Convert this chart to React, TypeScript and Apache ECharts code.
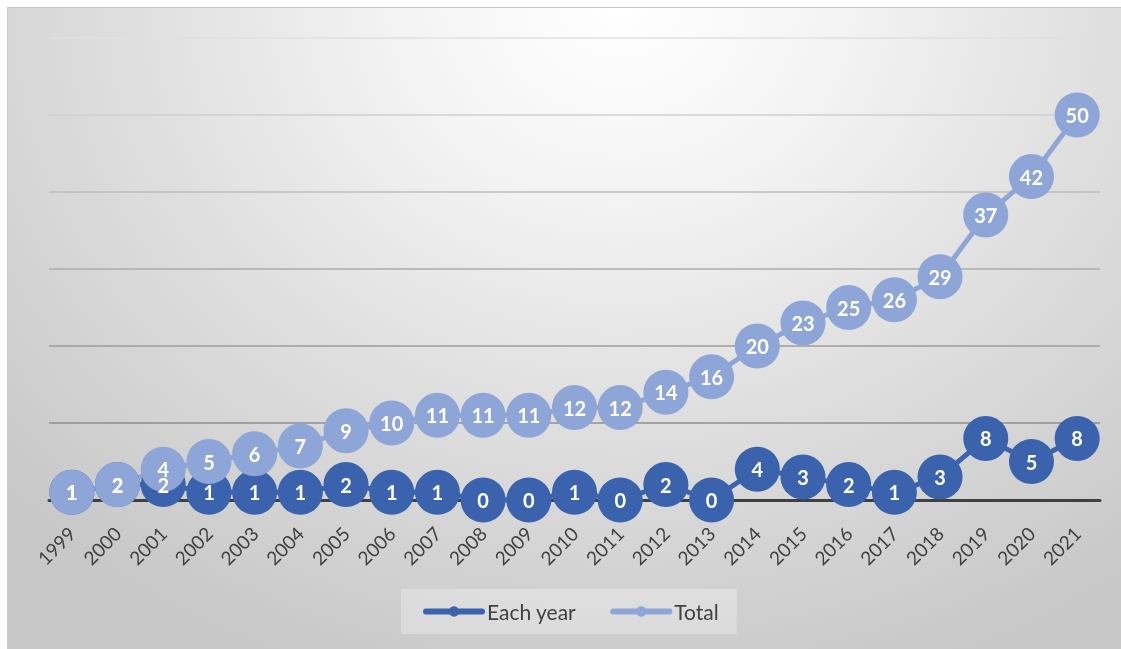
import React, { useEffect, useRef } from "react";
import * as echarts from "echarts";

const years = ["1999","2000","2001","2002","2003","2004","2005","2006","2007","2008","2009","2010","2011","2012","2013","2014","2015","2016","2017","2018","2019","2020","2021"];
const eachYear = [1,2,2,1,1,1,2,1,1,0,0,1,0,2,0,4,3,2,1,3,8,5,8];
const total = [1,2,4,5,6,7,9,10,11,11,11,12,12,14,16,20,23,25,26,29,37,42,50];
const seriesNames = ["Each year", "Total"];
const gridColors = ["#808080","#8e8e8e","#9c9c9c","#ababab","#bdbdbd","#cfcfcf","#e0e0e0"];

const FONT = 'Lato, "Open Sans", "Liberation Sans", sans-serif';

export default function App() {
  const ref = useRef<HTMLDivElement>(null);
  useEffect(() => {
    const chart = echarts.init(ref.current!, null, { renderer: "svg" });
    const label = {
      show: true,
      position: "inside",
      color: "#ffffff",
      fontWeight: "bold",
      fontSize: 20,
      fontFamily: FONT,
    };
    chart.setOption({
      animation: false,
      grid: { left: 41, right: 21, top: 30, bottom: 149 },
      legend: {
        left: 393,
        top: 581,
        data: seriesNames,
        backgroundColor: "rgba(255,255,255,0.28)",
        padding: [12, 18, 12, 22],
        itemWidth: 56,
        itemHeight: 13,
        itemGap: 34,
        lineStyle: { width: 6, cap: "round" },
        textStyle: { color: "#404040", fontSize: 21, fontFamily: FONT },
      },
      xAxis: {
        type: "category",
        data: years,
        axisLine: { lineStyle: { color: "#404040", width: 3 } },
        axisTick: { show: false },
        axisLabel: {
          rotate: 45,
          color: "#404040",
          fontSize: 19,
          fontFamily: FONT,
          margin: 30,
          interval: 0,
        },
      },
      yAxis: {
        type: "value",
        min: 0,
        max: 60,
        interval: 10,
        axisLabel: { show: false },
        axisLine: { show: false },
        axisTick: { show: false },
        splitLine: { lineStyle: { color: gridColors, width: 1.5 } },
      },
      series: [
        {
          name: seriesNames[0],
          type: "line",
          data: eachYear,
          symbol: "circle",
          symbolSize: 45,
          color: "#3B63AD",
          lineStyle: { width: 5, color: "#3B63AD" },
          itemStyle: { color: "#3B63AD" },
          label,
          z: 3,
        },
        {
          name: seriesNames[1],
          type: "line",
          data: total,
          symbol: "circle",
          symbolSize: 45,
          color: "#8EA5D7",
          lineStyle: { width: 5, color: "#8EA5D7" },
          itemStyle: { color: "#8EA5D7" },
          label,
          z: 3,
        },
      ],
    });
    return () => chart.dispose();
  }, []);
  return (
    <div
      ref={ref}
      style={{
        position: "fixed",
        left: 7,
        top: 7,
        width: 1114,
        height: 642,
        boxSizing: "border-box",
        borderTop: "1px solid #c8c8c8",
        borderLeft: "1px solid #c8c8c8",
        background:
          "radial-gradient(ellipse 75% 110% at 55% 0%, #ffffff 0%, #f4f4f4 25%, #dedede 60%, #c8c8c8 100%)",
      }}
    />
  );
}
